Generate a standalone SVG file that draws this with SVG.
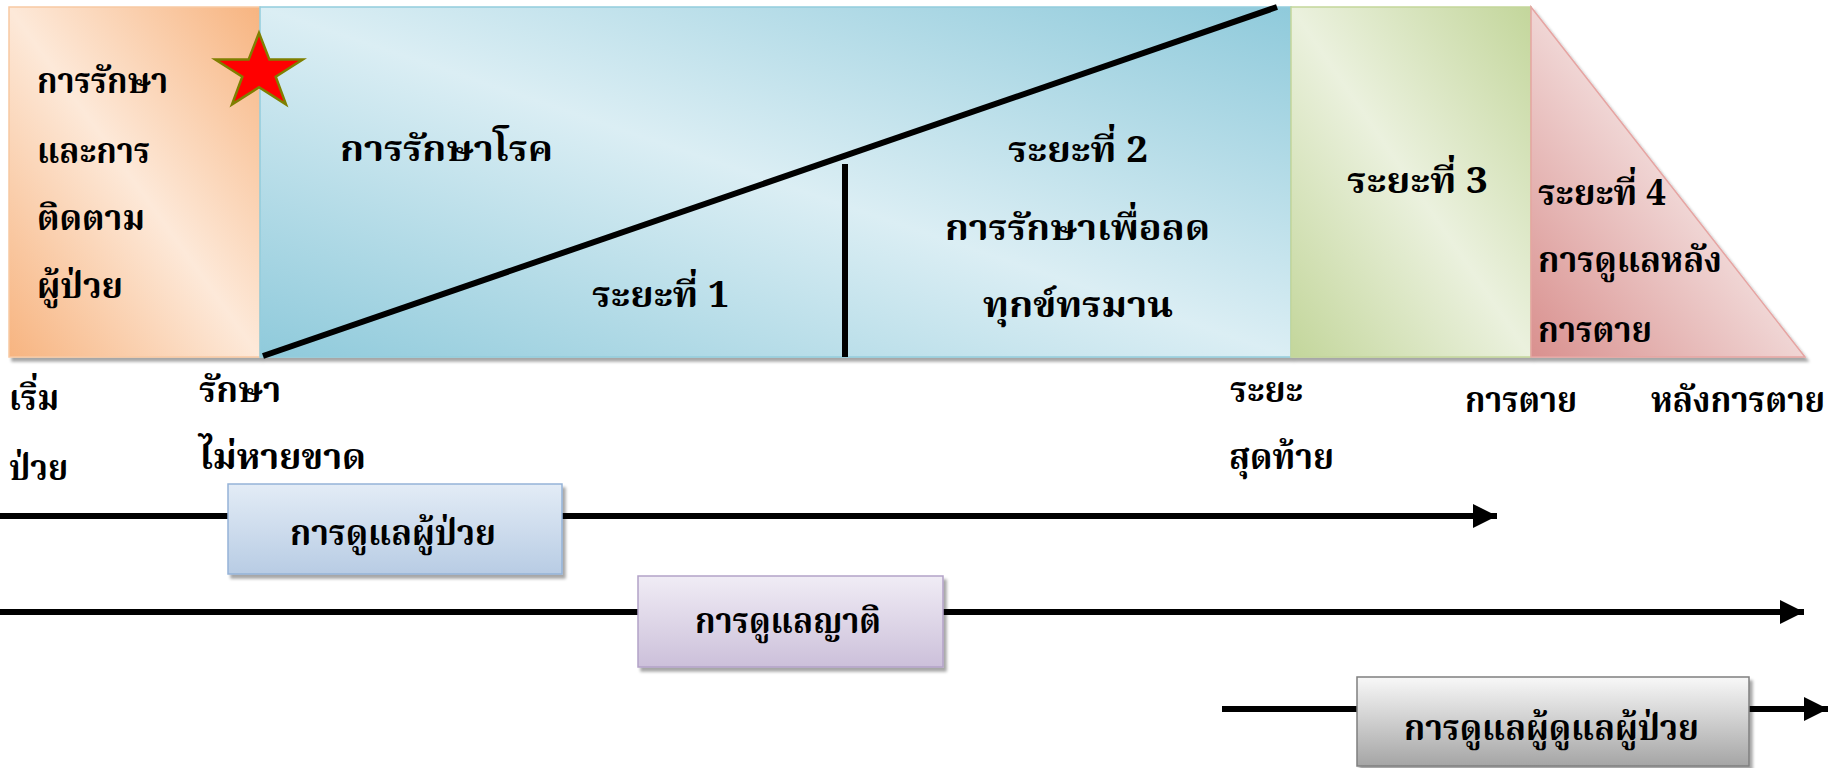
<svg xmlns="http://www.w3.org/2000/svg" width="1837" height="768" viewBox="0 0 1837 768">
<defs>
<style>
.t{font-family:"Noto Serif Thai","Noto Sans Thai","Liberation Serif",serif;font-weight:bold;font-size:36px;fill:#000;}
.ln{stroke:#000;stroke-width:6;fill:none;}
.arr{stroke:#000;stroke-width:6;fill:none;marker-end:url(#ah);}
</style>
<marker id="ah" markerUnits="userSpaceOnUse" markerWidth="26" markerHeight="24" refX="24" refY="12" orient="auto">
<path d="M0,0 L24,12 L0,24 Z" fill="#000"/>
</marker>
<linearGradient id="gOr" x1="0" y1="1" x2="1" y2="0">
<stop offset="0" stop-color="#f7b480"/><stop offset="0.5" stop-color="#fde9d9"/><stop offset="1" stop-color="#f7b480"/>
</linearGradient>
<linearGradient id="gBl" x1="0" y1="1" x2="1" y2="0">
<stop offset="0" stop-color="#8fcadb"/><stop offset="0.5" stop-color="#dbeef4"/><stop offset="1" stop-color="#8fcadb"/>
</linearGradient>
<linearGradient id="gGr" x1="0" y1="1" x2="1" y2="0">
<stop offset="0" stop-color="#c3d69b"/><stop offset="0.5" stop-color="#ebf1de"/><stop offset="1" stop-color="#c3d69b"/>
</linearGradient>
<linearGradient id="gPk" x1="0" y1="1" x2="1" y2="0">
<stop offset="0" stop-color="#d9908e"/><stop offset="0.55" stop-color="#f2dcdb"/><stop offset="1" stop-color="#f2dcdb"/>
</linearGradient>
<linearGradient id="gB1" x1="0" y1="0" x2="0" y2="1">
<stop offset="0" stop-color="#e3ecf6"/><stop offset="1" stop-color="#b8cce4"/>
</linearGradient>
<linearGradient id="gB2" x1="0" y1="0" x2="0" y2="1">
<stop offset="0" stop-color="#f0ecf5"/><stop offset="1" stop-color="#ccc0da"/>
</linearGradient>
<linearGradient id="gB3" x1="0" y1="0" x2="0" y2="1">
<stop offset="0" stop-color="#f8f8f8"/><stop offset="1" stop-color="#a5a5a5"/>
</linearGradient>
<filter id="sh" x="-5%" y="-5%" width="115%" height="120%">
<feDropShadow dx="3" dy="4" stdDeviation="1.5" flood-color="#000" flood-opacity="0.35"/>
</filter>
</defs>
<rect width="1837" height="768" fill="#fff"/>

<g id="band" filter="url(#sh)">
<g id="phase0">
<rect x="9" y="7" width="251" height="350" fill="url(#gOr)" stroke="#f8c9a3" stroke-width="1.5"/>
</g>
<g id="phase12">
<rect x="260" y="7" width="1031" height="350" fill="url(#gBl)" stroke="#93cddd" stroke-width="1.5"/>
</g>
<g id="phase3">
<rect x="1291" y="7" width="240" height="350" fill="url(#gGr)" stroke="#c3d69b" stroke-width="1.5"/>
</g>
<g id="phase4">
<polygon points="1531,7 1531,357 1805,357" fill="url(#gPk)" stroke="#e6a5a3" stroke-width="1.5"/>
</g>
</g>

<g id="dividers">
<line class="ln" x1="263" y1="356" x2="1277" y2="7"/>
<line class="ln" x1="845" y1="164" x2="845" y2="357"/>
</g>

<g id="star">
<polygon points="259,33 269.4,59.6 302.7,59.6 275.7,76.7 286,104.4 259,87.3 232,104.4 242.3,76.7 215.3,59.6 248.6,59.6" fill="#ff0000" stroke="#7f7f00" stroke-width="2.5" stroke-linejoin="miter"/>
</g>

<g id="labels-top">
<text class="t" x="37" y="93" textLength="131" lengthAdjust="spacingAndGlyphs">การรักษา</text>
<text class="t" x="37" y="163" textLength="113" lengthAdjust="spacingAndGlyphs">และการ</text>
<text class="t" x="37" y="230" textLength="108" lengthAdjust="spacingAndGlyphs">ติดตาม</text>
<text class="t" x="37" y="298" textLength="86" lengthAdjust="spacingAndGlyphs">ผู้ป่วย</text>
<text class="t" x="340" y="161" textLength="213" lengthAdjust="spacingAndGlyphs">การรักษาโรค</text>
<text class="t" x="592" y="307" textLength="137" lengthAdjust="spacingAndGlyphs">ระยะที่ 1</text>
<text class="t" x="1008" y="162" textLength="140" lengthAdjust="spacingAndGlyphs">ระยะที่ 2</text>
<text class="t" x="945" y="240" textLength="265" lengthAdjust="spacingAndGlyphs">การรักษาเพื่อลด</text>
<text class="t" x="983" y="317" textLength="190" lengthAdjust="spacingAndGlyphs">ทุกข์ทรมาน</text>
<text class="t" x="1347" y="193" textLength="141" lengthAdjust="spacingAndGlyphs">ระยะที่ 3</text>
<text class="t" x="1538" y="205" textLength="128" lengthAdjust="spacingAndGlyphs">ระยะที่ 4</text>
<text class="t" x="1538" y="272" textLength="184" lengthAdjust="spacingAndGlyphs">การดูแลหลัง</text>
<text class="t" x="1538" y="342" textLength="114" lengthAdjust="spacingAndGlyphs">การตาย</text>
</g>

<g id="labels-axis">
<text class="t" x="9" y="410" textLength="50" lengthAdjust="spacingAndGlyphs">เริ่ม</text>
<text class="t" x="9" y="480" textLength="59" lengthAdjust="spacingAndGlyphs">ป่วย</text>
<text class="t" x="199" y="402" textLength="82" lengthAdjust="spacingAndGlyphs">รักษา</text>
<text class="t" x="199" y="469" textLength="167" lengthAdjust="spacingAndGlyphs">ไม่หายขาด</text>
<text class="t" x="1230" y="402" textLength="73" lengthAdjust="spacingAndGlyphs">ระยะ</text>
<text class="t" x="1229" y="469" textLength="105" lengthAdjust="spacingAndGlyphs">สุดท้าย</text>
<text class="t" x="1465" y="412" textLength="112" lengthAdjust="spacingAndGlyphs">การตาย</text>
<text class="t" x="1651" y="412" textLength="174" lengthAdjust="spacingAndGlyphs">หลังการตาย</text>
</g>

<g id="connectors">
<line class="arr" x1="0" y1="516" x2="1497" y2="516"/>
<line class="arr" x1="0" y1="612" x2="1804" y2="612"/>
<line class="arr" x1="1222" y1="709" x2="1828" y2="709"/>
</g>

<g id="box-patient">
<rect x="228" y="484" width="334" height="90" fill="url(#gB1)" stroke="#95b3d7" stroke-width="1.5" filter="url(#sh)"/>
<text class="t" x="290" y="545" textLength="206" lengthAdjust="spacingAndGlyphs">การดูแลผู้ป่วย</text>
</g>
<g id="box-family">
<rect x="638" y="576" width="305" height="91" fill="url(#gB2)" stroke="#b3a2c7" stroke-width="1.5" filter="url(#sh)"/>
<text class="t" x="695" y="633" textLength="186" lengthAdjust="spacingAndGlyphs">การดูแลญาติ</text>
</g>
<g id="box-caregiver">
<rect x="1357" y="677" width="392" height="89" fill="url(#gB3)" stroke="#7f7f7f" stroke-width="1.5" filter="url(#sh)"/>
<text class="t" x="1404" y="740" textLength="295" lengthAdjust="spacingAndGlyphs">การดูแลผู้ดูแลผู้ป่วย</text>
</g>
</svg>
